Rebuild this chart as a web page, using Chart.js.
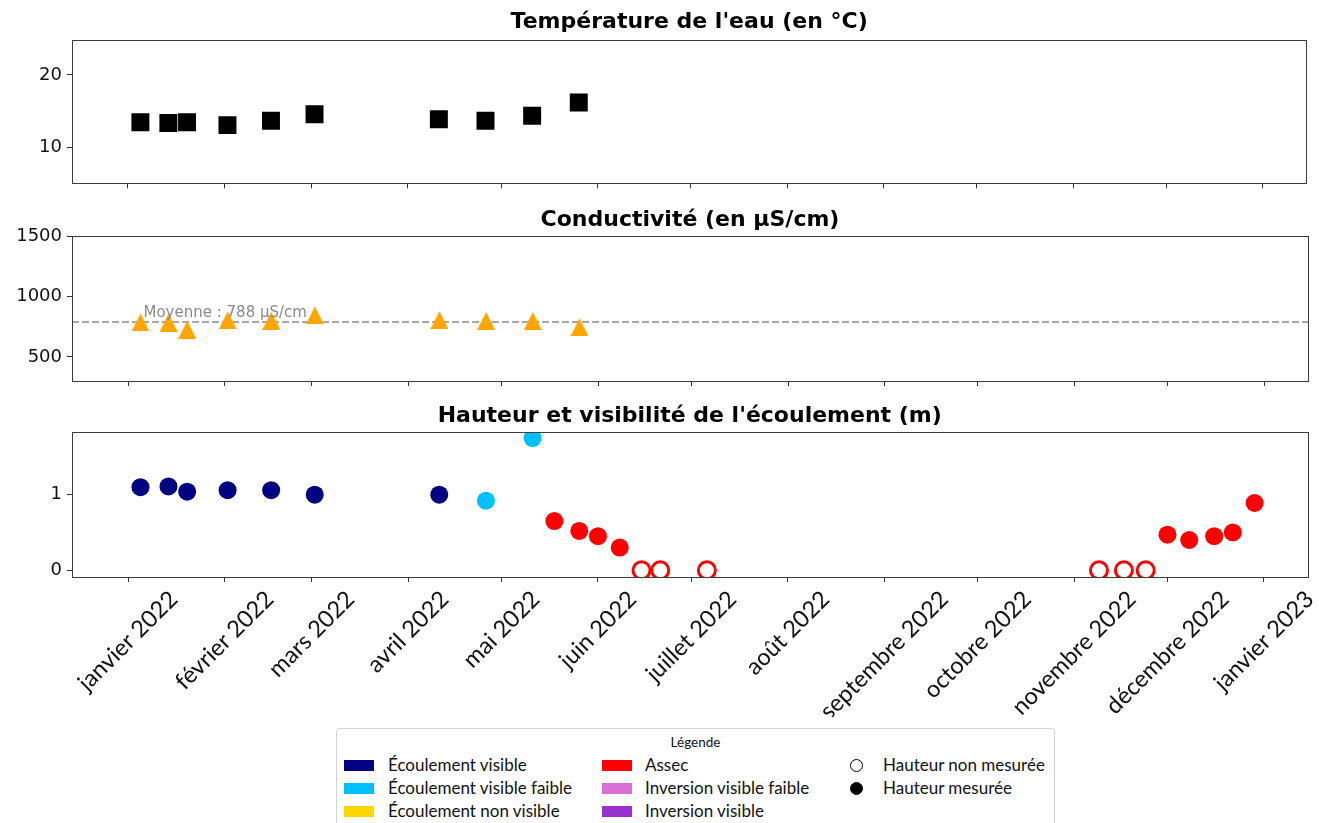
<!DOCTYPE html>
<html>
<head>
<meta charset="utf-8">
<script src="https://cdn.jsdelivr.net/npm/chart.js@4.4.0/dist/chart.umd.min.js"></script>
<style>
	body { margin: 0; background: #fff; width: 1319px; height: 823px; overflow: hidden; position: relative; font-family: "DejaVu Sans", sans-serif; }
	.panel { position: absolute; left: 0; width: 1319px; }
	#legend { position: absolute; left: 336px; top: 728px; width: 717px; height: 110px; border: 1px solid #d4d4d4; border-radius: 4px; background: #fff; color: #111; font-family: Lato, sans-serif; }
	#legend .title { position: absolute; left: 0; width: 100%; top: 5px; text-align: center; font-size: 13.5px; }
	#legend .item { position: absolute; font-size: 17px; line-height: 20px; white-space: nowrap; }
	#legend .swatch { position: absolute; width: 30px; height: 11px; }
	#legend .dot { position: absolute; width: 11px; height: 11px; border-radius: 50%; border: 1.4px solid #000; }
</style>
</head>
<body>
<div class="panel" style="top:0;height:196px"><canvas id="temp"></canvas></div>
<div class="panel" style="top:196px;height:197px"><canvas id="cond"></canvas></div>
<div class="panel" style="top:392px;height:325px"><canvas id="height"></canvas></div>
<div id="legend"></div>

<script>
const MONTHS_FR = ['janvier', 'février', 'mars', 'avril', 'mai', 'juin', 'juillet', 'août', 'septembre', 'octobre', 'novembre', 'décembre'];

// prélèvements (température + conductivité)
const sampleDates = ['2022-01-05', '2022-01-14', '2022-01-20', '2022-02-02', '2022-02-16', '2022-03-02', '2022-04-11', '2022-04-26', '2022-05-11', '2022-05-26'];
const temperature = [13.5, 13.4, 13.5, 13.1, 13.7, 14.6, 13.9, 13.7, 14.4, 16.2];
const conductivity = [785, 782, 725, 803, 799, 843, 805, 797, 797, 745];

// hauteur d'eau + état de l'écoulement (index dans statusLabels)
const heightDates = ['2022-01-05', '2022-01-14', '2022-01-20', '2022-02-02', '2022-02-16', '2022-03-02', '2022-04-11', '2022-04-26', '2022-05-11', '2022-05-18', '2022-05-26', '2022-06-01', '2022-06-08', '2022-06-15', '2022-06-21', '2022-07-06', '2022-11-09', '2022-11-17', '2022-11-24', '2022-12-01', '2022-12-08', '2022-12-16', '2022-12-22', '2022-12-29'];
const heightValues = [1.10, 1.11, 1.04, 1.06, 1.06, 1.00, 1.00, 0.92, 1.75, 0.65, 0.52, 0.45, 0.30, 0, 0, 0, 0, 0, 0, 0.47, 0.40, 0.45, 0.50, 0.89];
const heightStatus = [0, 0, 0, 0, 0, 0, 0, 1, 1, 3, 3, 3, 3, 3, 3, 3, 3, 3, 3, 3, 3, 3, 3, 3];
const heightMeasured = [1, 1, 1, 1, 1, 1, 1, 1, 1, 1, 1, 1, 1, 0, 0, 0, 0, 0, 0, 1, 1, 1, 1, 1];

const statusLabels = ['Écoulement visible', 'Écoulement visible faible', 'Écoulement non visible', 'Assec', 'Inversion visible faible', 'Inversion visible'];
const statusColors = ['#000080', '#00bfff', '#ffd700', '#ff0000', '#da70d6', '#9932cc'];
const markerLabels = ['Hauteur non mesurée', 'Hauteur mesurée'];

const tempTicks = [10, 20];
const condTicks = [500, 1000, 1500];
const heightTicks = [0, 1];
const monthTicks = ['2022-01-01', '2022-02-01', '2022-03-01', '2022-04-01', '2022-05-01', '2022-06-01', '2022-07-01', '2022-08-01', '2022-09-01', '2022-10-01', '2022-11-01', '2022-12-01', '2023-01-01'];
const xStart = '2021-12-14';
const xEnd = '2023-01-15';

function day(s) {
	const p = s.split('-').map(Number);
	return (Date.UTC(p[0], p[1] - 1, p[2]) - Date.UTC(2022, 0, 1)) / 86400000;
}
function monthLabel(s) {
	const p = s.split('-').map(Number);
	return MONTHS_FR[p[1] - 1] + ' ' + p[0];
}

Chart.defaults.font.family = '"DejaVu Sans", sans-serif';
Chart.defaults.color = '#111';

// cadre complet autour de la zone de tracé (comme matplotlib)
const framePlugin = {
	id: 'frame',
	afterDatasetsDraw(chart) {
		const a = chart.chartArea, ctx = chart.ctx;
		ctx.save();
		ctx.strokeStyle = '#3c3c3c';
		ctx.lineWidth = 1;
		ctx.strokeRect(Math.round(a.left) + 0.5, Math.round(a.top) + 0.5, Math.round(a.right - a.left), Math.round(a.bottom - a.top));
		ctx.restore();
	}
};

function options(title, pad, yMin, yMax, yTicks, xHeight) {
	return {
		responsive: true,
		maintainAspectRatio: false,
		animation: false,
		layout: {padding: {left: 0, right: 11, top: 0, bottom: 0}},
		plugins: {
			legend: {display: false},
			tooltip: {enabled: false},
			title: {
				display: true, text: title, fullSize: false, color: '#000',
				font: {size: 22, weight: 'bold'},
				padding: pad
			}
		},
		scales: {
			x: {
				type: 'linear', min: day(xStart), max: day(xEnd),
				border: {display: false},
				grid: {drawOnChartArea: false, drawTicks: true, tickLength: 5, color: '#333'},
				ticks: {display: false, autoSkip: false},
				afterBuildTicks: s => { s.ticks = monthTicks.map(d => ({value: day(d)})); },
				afterFit: s => {
					s.height = xHeight;
					s.paddingLeft = s.paddingRight = s.paddingTop = s.paddingBottom = 0;
				}
			},
			y: {
				min: yMin, max: yMax,
				border: {display: false},
				grid: {drawOnChartArea: false, drawTicks: true, tickLength: 5, color: '#333'},
				ticks: {font: {size: 18}, padding: 5, color: '#111', callback: v => String(v)},
				afterBuildTicks: s => { s.ticks = yTicks.map(v => ({value: v})); },
				afterFit: s => {
					s.width = 72;
					s.paddingLeft = s.paddingRight = s.paddingTop = s.paddingBottom = 0;
				}
			}
		}
	};
}

// Température
new Chart(document.getElementById('temp'), {
	type: 'scatter',
	data: {
		datasets: [{
			data: sampleDates.map((d, i) => ({x: day(d), y: temperature[i]})),
			pointStyle: 'rect', pointRadius: 12.7, pointHoverRadius: 12.7,
			backgroundColor: '#000', borderColor: '#000', borderWidth: 0
		}]
	},
	options: options("Température de l'eau (en °C)", {top: 9, bottom: 4.6}, 5.1, 24.8, tempTicks, 12),
	plugins: [framePlugin]
});

// Conductivité
function triangleImage(size, color) {
	const c = document.createElement('canvas');
	c.width = size; c.height = size;
	const g = c.getContext('2d');
	g.fillStyle = color;
	g.beginPath();
	g.moveTo(size / 2, 0);
	g.lineTo(size, size);
	g.lineTo(0, size);
	g.closePath();
	g.fill();
	return c;
}
const condMean = conductivity.reduce((a, b) => a + b, 0) / conductivity.length;

const meanLabelPlugin = {
	id: 'meanLabel',
	afterDatasetsDraw(chart) {
		const ctx = chart.ctx;
		const x = chart.scales.x.getPixelForValue(day(sampleDates[0])) + 3;
		const y = chart.scales.y.getPixelForValue(condMean) - 5.5;
		ctx.save();
		ctx.font = '15px "DejaVu Sans"';
		ctx.fillStyle = '#8a8a8a';
		ctx.textAlign = 'left';
		ctx.textBaseline = 'alphabetic';
		ctx.fillText('Moyenne : ' + Math.round(condMean) + ' µS/cm', x, y);
		ctx.restore();
	}
};

new Chart(document.getElementById('cond'), {
	type: 'scatter',
	data: {
		datasets: [{
			data: sampleDates.map((d, i) => ({x: day(d), y: conductivity[i]})),
			pointStyle: triangleImage(18, '#ffa500'), pointRadius: 9,
			backgroundColor: '#ffa500', borderColor: '#ffa500'
		}, {
			type: 'line',
			data: [{x: day(xStart), y: condMean}, {x: day(xEnd), y: condMean}],
			borderColor: '#8c8c8c', borderWidth: 1.7, borderDash: [7, 3],
			pointRadius: 0, fill: false
		}]
	},
	options: options('Conductivité (en µS/cm)', {top: 11, bottom: 2.6}, 300, 1500, condTicks, 12),
	plugins: [framePlugin, meanLabelPlugin]
});

// Hauteur et visibilité
const xLabelPlugin = {
	id: 'xLabels',
	afterDraw(chart) {
		const s = chart.scales.x, ctx = chart.ctx;
		const fs = 23.5, h = fs * 1.1, c = Math.SQRT1_2;
		ctx.save();
		ctx.font = fs + 'px Lato';
		ctx.fillStyle = '#111';
		ctx.textAlign = 'center';
		ctx.textBaseline = 'middle';
		monthTicks.forEach(d => {
			const label = monthLabel(d);
			const w = ctx.measureText(label).width;
			const x = s.getPixelForValue(day(d));
			const y = s.top + 5 + 4 + (w + h) * c / 2;
			ctx.save();
			ctx.translate(x, y);
			ctx.rotate(-Math.PI / 4);
			ctx.fillText(label, 0, 0);
			ctx.restore();
		});
		ctx.restore();
	}
};

new Chart(document.getElementById('height'), {
	type: 'scatter',
	data: {
		datasets: [{
			data: heightDates.map((d, i) => ({x: day(d), y: heightValues[i]})),
			pointStyle: 'circle',
			pointRadius: heightMeasured.map(m => m ? 9 : 8.5),
			pointHoverRadius: heightMeasured.map(m => m ? 9 : 8.5),
			pointBackgroundColor: heightStatus.map((s, i) => heightMeasured[i] ? statusColors[s] : '#fff'),
			pointBorderColor: heightStatus.map(s => statusColors[s]),
			pointBorderWidth: heightMeasured.map(m => m ? 0 : 3)
		}]
	},
	options: options("Hauteur et visibilité de l'écoulement (m)", {top: 11, bottom: 2.6}, -0.09, 1.83, heightTicks, 140),
	plugins: [framePlugin, xLabelPlugin]
});

// Légende
const legend = document.getElementById('legend');
let html = '<div class="title">Légende</div>';
const rowY = [37, 60, 83];
statusLabels.forEach((lab, i) => {
	const col = Math.floor(i / 3), row = i % 3;
	const sx = col === 0 ? 7 : 265, tx = col === 0 ? 51 : 308;
	html += '<div class="swatch" style="left:' + sx + 'px;top:' + (rowY[row] - 6) + 'px;background:' + statusColors[i] + '"></div>';
	html += '<div class="item" style="left:' + tx + 'px;top:' + (rowY[row] - 11) + 'px">' + lab + '</div>';
});
markerLabels.forEach((lab, i) => {
	html += '<div class="dot" style="left:513px;top:' + (rowY[i] - 7) + 'px;background:' + (i === 0 ? '#fff' : '#000') + '"></div>';
	html += '<div class="item" style="left:546px;top:' + (rowY[i] - 11) + 'px">' + lab + '</div>';
});
legend.innerHTML = html;
</script>
</body>
</html>
